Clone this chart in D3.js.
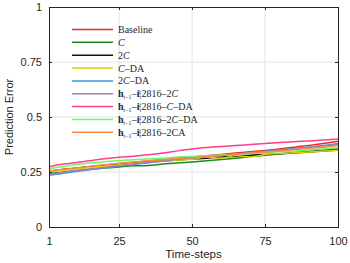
<!DOCTYPE html>
<html>
<head>
<meta charset="utf-8">
<script src="https://cdn.jsdelivr.net/npm/d3@7"></script>
<style>
  body { margin: 0; background: #fff; }
  svg { display: block; }
  .tick text { font: 11px "Liberation Sans", Arial, sans-serif; fill: #262626; }
  .legend text { font: 10px "Liberation Serif", "DejaVu Serif", serif; fill: #262626; }
  .cal { font-style: italic; }
</style>
</head>
<body>
<svg id="chart" width="350" height="263"></svg>
<script>
// time-steps sampled along the x axis
const steps = [1, 5, 10, 15, 20, 25, 30, 35, 40, 45, 50, 55, 60, 65, 70, 75, 80, 85, 90, 95, 100];

const baseline = [0.250, 0.258, 0.266, 0.274, 0.281, 0.288, 0.294, 0.300, 0.306, 0.312, 0.318, 0.324, 0.330, 0.336, 0.342, 0.348, 0.355, 0.363, 0.371, 0.380, 0.390];
const calC     = [0.243, 0.248, 0.255, 0.262, 0.268, 0.273, 0.278, 0.280, 0.286, 0.291, 0.296, 0.301, 0.307, 0.313, 0.320, 0.326, 0.332, 0.338, 0.344, 0.350, 0.356];
const cal2C    = [0.252, 0.260, 0.267, 0.274, 0.280, 0.285, 0.290, 0.295, 0.300, 0.305, 0.309, 0.313, 0.318, 0.322, 0.326, 0.330, 0.333, 0.337, 0.341, 0.345, 0.350];
const calCDA   = [0.250, 0.257, 0.264, 0.271, 0.277, 0.283, 0.289, 0.294, 0.299, 0.304, 0.308, 0.318, 0.312, 0.325, 0.318, 0.330, 0.334, 0.338, 0.341, 0.345, 0.349];
const cal2CDA  = [0.235, 0.242, 0.252, 0.260, 0.268, 0.276, 0.284, 0.292, 0.300, 0.312, 0.316, 0.320, 0.326, 0.332, 0.338, 0.344, 0.350, 0.357, 0.364, 0.371, 0.380];
const hiC2     = [0.240, 0.247, 0.256, 0.264, 0.271, 0.279, 0.286, 0.293, 0.300, 0.308, 0.314, 0.319, 0.325, 0.331, 0.337, 0.343, 0.349, 0.355, 0.362, 0.368, 0.375];
const hiCDA    = [0.274, 0.284, 0.292, 0.301, 0.310, 0.317, 0.322, 0.328, 0.336, 0.346, 0.354, 0.361, 0.366, 0.370, 0.375, 0.380, 0.384, 0.388, 0.391, 0.395, 0.400];
const hi2CDA   = [0.265, 0.273, 0.283, 0.291, 0.297, 0.302, 0.306, 0.309, 0.312, 0.318, 0.321, 0.324, 0.327, 0.330, 0.334, 0.338, 0.342, 0.346, 0.350, 0.355, 0.360];
const hi2CA    = [0.255, 0.261, 0.268, 0.276, 0.283, 0.290, 0.296, 0.301, 0.306, 0.311, 0.315, 0.320, 0.325, 0.330, 0.335, 0.340, 0.345, 0.351, 0.357, 0.363, 0.370];

const xTicks = [1, 25, 50, 75, 100];
const yTicks = [0, 0.25, 0.5, 0.75, 1];

// legend label parts: [text, style]; "c" = calligraphic C (italic), "b" bold, "sub"/"sup" scripts
const hPrefix = [["h", "b"], ["t\u22121", "sub"], ["\u2013", "n"], ["i", "b"], ["t", "sub"], ["\u2021", "sup"], ["2816\u2013", "n"]];
const series = [
  { label: [["Baseline", "n"]], color: "#e8282b", values: baseline },
  { label: [["C", "c"]], color: "#1b8a1b", values: calC },
  { label: [["2", "n"], ["C", "c"]], color: "#111111", values: cal2C },
  { label: [["C", "c"], ["\u2013DA", "n"]], color: "#d9d400", values: calCDA },
  { label: [["2", "n"], ["C", "c"], ["\u2013DA", "n"]], color: "#3c9bd8", values: cal2CDA },
  { label: hPrefix.concat([["2", "n"], ["C", "c"]]), color: "#a77bb3", values: hiC2 },
  { label: hPrefix.concat([["C", "c"], ["\u2013DA", "n"]]), color: "#ff3d8e", values: hiCDA },
  { label: hPrefix.concat([["2", "n"], ["C", "c"], ["\u2013DA", "n"]]), color: "#6cf76c", values: hi2CDA },
  { label: hPrefix.concat([["2CA", "n"]]), color: "#ff8a3d", values: hi2CA },
];

const margin = { top: 7, right: 12, bottom: 36, left: 49 };
const width = 350, height = 263;
const svg = d3.select("#chart");

const x = d3.scaleLinear().domain([1, 100]).range([margin.left, width - margin.right]);
const y = d3.scaleLinear().domain([0, 1]).range([height - margin.bottom, margin.top]);

// grid
const grid = svg.append("g");
grid.selectAll(".gx").data(xTicks.slice(1, -1)).enter().append("line")
  .attr("x1", d => x(d)).attr("x2", d => x(d))
  .attr("y1", y(0)).attr("y2", y(1))
  .attr("stroke", "#e3e3e3").attr("stroke-width", 1);
grid.selectAll(".gy").data(yTicks.slice(1, -1)).enter().append("line")
  .attr("x1", x(1)).attr("x2", x(100))
  .attr("y1", d => y(d)).attr("y2", d => y(d))
  .attr("stroke", "#e3e3e3").attr("stroke-width", 1);

// lines
const line = d3.line().curve(d3.curveMonotoneX).x((d, i) => x(steps[i])).y(d => y(d));
svg.append("g").selectAll("path").data(series).enter().append("path")
  .attr("d", d => line(d.values))
  .attr("fill", "none")
  .attr("stroke", d => d.color)
  .attr("stroke-width", 1.5)
  .attr("stroke-linejoin", "round");

// axes with inward ticks
svg.append("g").attr("transform", `translate(0,${y(0)})`)
  .call(d3.axisBottom(x).tickValues(xTicks).tickSize(-3).tickPadding(10));
svg.append("g").attr("transform", `translate(${x(1)},0)`)
  .call(d3.axisLeft(y).tickValues(yTicks).tickFormat(d3.format("~g")).tickSize(-3).tickPadding(7));
svg.append("g").attr("transform", `translate(${x(100)},0)`)
  .call(d3.axisRight(y).tickValues(yTicks).tickFormat("").tickSize(-3));
svg.append("g").attr("transform", `translate(0,${y(1)})`)
  .call(d3.axisTop(x).tickValues(xTicks).tickFormat("").tickSize(-3));
svg.selectAll(".domain, .tick line").attr("stroke", "#262626").attr("stroke-width", 1);

// axis titles
svg.append("text")
  .attr("x", (x(1) + x(100)) / 2).attr("y", 258)
  .attr("text-anchor", "middle")
  .style("font", "11.5px 'Liberation Sans', Arial, sans-serif").attr("fill", "#262626")
  .text("Time-steps");
svg.append("text")
  .attr("transform", `translate(13,${(y(0) + y(1)) / 2}) rotate(-90)`)
  .attr("text-anchor", "middle")
  .style("font", "11px 'Liberation Sans', Arial, sans-serif").attr("fill", "#262626")
  .text("Prediction Error");

// legend
const legend = svg.append("g").attr("class", "legend");
series.forEach((s, i) => {
  const ly = 29.5 + i * 12.85;
  legend.append("line")
    .attr("x1", 72).attr("x2", 113).attr("y1", ly).attr("y2", ly)
    .attr("stroke", s.color).attr("stroke-width", 1.5);
  const t = legend.append("text").attr("x", 118).attr("y", ly + 3.5);
  let shift = 0; // current baseline offset
  s.label.forEach(([txt, st]) => {
    const sp = t.append("tspan").text(txt);
    let target = 0;
    if (st === "b") sp.attr("font-weight", "bold");
    if (st === "c") sp.attr("class", "cal");
    if (st === "sub") { sp.attr("font-size", "6px"); target = 2; }
    if (st === "sup") { sp.attr("font-size", "6px").attr("dx", -2.5); target = -3; }
    if (target !== shift) { sp.attr("dy", target - shift); shift = target; }
  });
});
</script>
</body>
</html>
